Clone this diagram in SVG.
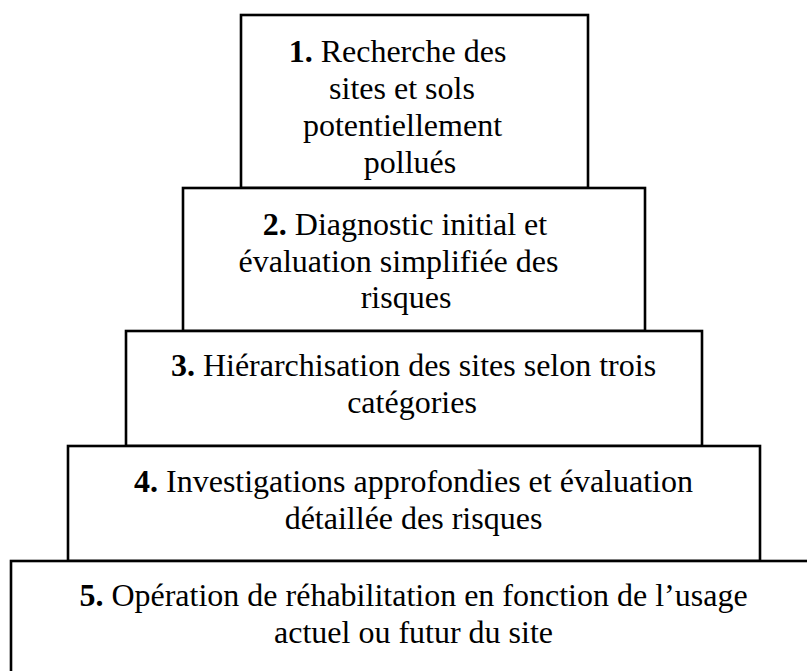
<svg xmlns="http://www.w3.org/2000/svg" width="807" height="671" viewBox="0 0 807 671">
<style>
.box{fill:#fff;stroke:#000;stroke-width:2.6}
text{font-family:"Liberation Serif","Times New Roman",serif;font-size:32px;fill:#000;text-anchor:middle}
.b{font-weight:bold}
</style>
<rect width="807" height="671" fill="#fff"/>
<g id="step1">
<rect class="box" x="241" y="15" width="347" height="173"/>
<text x="397.5" y="62"><tspan class="b">1.</tspan> Recherche des</text>
<text x="402" y="99">sites et sols</text>
<text x="402.5" y="136">potentiellement</text>
<text x="410" y="173">pollués</text>
</g>
<g id="step2">
<rect class="box" x="183" y="188" width="462" height="143"/>
<text x="405" y="235"><tspan class="b">2.</tspan> Diagnostic initial et</text>
<text x="398.5" y="272">évaluation simplifiée des</text>
<text x="406" y="308">risques</text>
</g>
<g id="step3">
<rect class="box" x="126" y="331" width="576" height="115"/>
<text x="413.5" y="376"><tspan class="b">3.</tspan> Hiérarchisation des sites selon trois</text>
<text x="412" y="413">catégories</text>
</g>
<g id="step4">
<rect class="box" x="68" y="446" width="692" height="115"/>
<text x="413.5" y="492"><tspan class="b">4.</tspan> Investigations approfondies et évaluation</text>
<text x="413.5" y="529">détaillée des risques</text>
</g>
<g id="step5">
<rect class="box" x="11" y="561" width="820" height="130"/>
<text x="413.5" y="606"><tspan class="b">5.</tspan> Opération de réhabilitation en fonction de l’usage</text>
<text x="413.5" y="643">actuel ou futur du site</text>
</g>
<g id="connectors"/>
</svg>
